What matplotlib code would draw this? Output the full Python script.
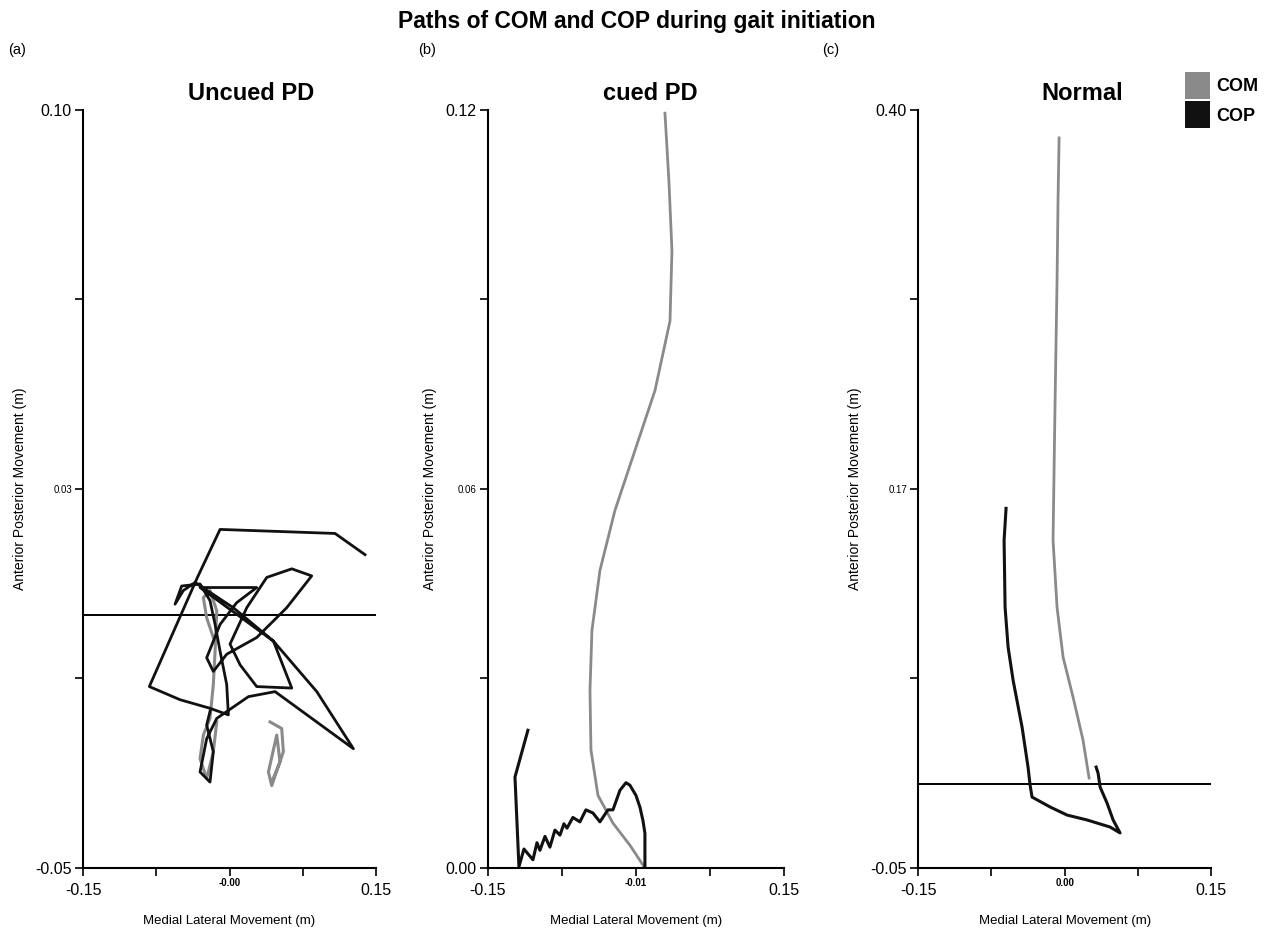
import matplotlib
matplotlib.use("Agg")
import matplotlib.pyplot as plt
from matplotlib.patches import Patch

plt.rcParams['font.family'] = ['Liberation Sans', 'DejaVu Sans']

# ---- data (m) ----
panel_names = ["Uncued PD", "cued PD", "Normal"]
panel_tags = ["(a)", "(b)", "(c)"]

xlim = (-0.15, 0.15)
ylim_a = (-0.05, 0.10)
ylim_b = (0.00, 0.12)
ylim_c = (-0.05, 0.40)

yticklabels_a = ["-0.05", "", "0.03", "", "0.10"]
yticklabels_b = ["0.00", "", "0.06", "", "0.12"]
yticklabels_c = ["-0.05", "", "0.17", "", "0.40"]
xticklabels = ["-0.15", "", "", "", "0.15"]
xmid_labels = ["-0.00", "-0.01", "0.00"]

# (a) uncued PD
cop_a_x = [0.1387, 0.1080, 0.0637, -0.0097, -0.0336, -0.0821, -0.0507, -0.0200,
           -0.0012, -0.0029, -0.0097, -0.0148, -0.0200, -0.0302, -0.0490, -0.0558,
           -0.0473, -0.0353, 0.0039, 0.0449, 0.0637, 0.0278, 0.0108, 0.0005,
           0.0176, 0.0381, 0.0637, 0.0841, 0.0585, 0.0278, -0.0029, -0.0166,
           -0.0234, -0.0097, 0.0073, 0.0278, -0.0302, 0.0449, 0.0893, 0.1268,
           0.0466, 0.0193, -0.0131, -0.0234, -0.0302, -0.0200, -0.0166, -0.0234,
           -0.0200]
cop_a_y = [0.0120, 0.0162, 0.0165, 0.0170, 0.0072, -0.0141, -0.0167, -0.0184,
           -0.0197, -0.0137, -0.0071, -0.0018, 0.0029, 0.0062, 0.0058, 0.0022,
           0.0049, 0.0065, 0.0015, -0.0051, -0.0144, -0.0141, -0.0098, -0.0057,
           0.0015, 0.0075, 0.0092, 0.0078, 0.0015, -0.0044, -0.0077, -0.0111,
           -0.0084, -0.0018, 0.0025, 0.0055, 0.0055, -0.0051, -0.0151, -0.0264,
           -0.0151, -0.0161, -0.0204, -0.0244, -0.0310, -0.0330, -0.0270, -0.0217,
           -0.0190]
com_a_x = [-0.0166, -0.0234, -0.0268, -0.0200, -0.0131, -0.0148, -0.0166, -0.0200,
           -0.0268, -0.0302, -0.0234, -0.0166, -0.0131]
com_a_y = [-0.0044, -0.0005, 0.0035, 0.0049, 0.0009, -0.0071, -0.0137, -0.0204,
           -0.0237, -0.0284, -0.0323, -0.0270, -0.0211]
com_a2_x = [0.0415, 0.0534, 0.0551, 0.0432, 0.0398, 0.0483, 0.0517, 0.0432]
com_a2_y = [-0.0211, -0.0224, -0.0270, -0.0337, -0.0310, -0.0237, -0.0290, -0.0330]

# (b) cued PD
com_b_x = [0.0294, 0.0334, 0.0365, 0.0345, 0.0193, -0.0010, -0.0213, -0.0365,
           -0.0446, -0.0466, -0.0456, -0.0385, -0.0233, -0.0061, 0.0091]
com_b_y = [0.1195, 0.1088, 0.0977, 0.0866, 0.0756, 0.0661, 0.0566, 0.0471,
           0.0376, 0.0281, 0.0187, 0.0115, 0.0071, 0.0036, 0.0000]
cop_b_x = [-0.1095, -0.1226, -0.1186, -0.1135, -0.1044, -0.1003, -0.0973, -0.0922,
           -0.0872, -0.0821, -0.0770, -0.0730, -0.0699, -0.0639, -0.0568, -0.0507,
           -0.0436, -0.0365, -0.0284, -0.0233, -0.0162, -0.0101, -0.0061, 0.0000,
           0.0041, 0.0071, 0.0091, 0.0091]
cop_b_y = [0.0218, 0.0144, 0.0002, 0.0030, 0.0013, 0.0040, 0.0028, 0.0050,
           0.0033, 0.0060, 0.0052, 0.0070, 0.0063, 0.0080, 0.0073, 0.0092,
           0.0087, 0.0073, 0.0092, 0.0092, 0.0123, 0.0135, 0.0131, 0.0115,
           0.0096, 0.0075, 0.0055, 0.0000]

# (c) normal
com_c_x = [-0.0056, -0.0067, -0.0077, -0.0097, -0.0118, -0.0077, -0.0015, 0.0087,
           0.0189, 0.0251]
com_c_y = [0.3834, 0.3461, 0.2987, 0.2275, 0.1445, 0.1048, 0.0751, 0.0514,
           0.0259, 0.0034]
cop_c_x = [-0.0599, -0.0619, -0.0609, -0.0578, -0.0527, -0.0435, -0.0374, -0.0353,
           -0.0333, -0.0148, 0.0026, 0.0230, 0.0466, 0.0568, 0.0497, 0.0435,
           0.0364, 0.0343, 0.0323]
cop_c_y = [0.1635, 0.1445, 0.1048, 0.0811, 0.0615, 0.0336, 0.0099, -0.0008,
           -0.0079, -0.0138, -0.0186, -0.0215, -0.0257, -0.0292, -0.0215, -0.0115,
           -0.0020, 0.0063, 0.0099]

com_color = "#8a8a8a"
cop_color = "#111111"

fig = plt.figure(figsize=(12.77, 9.33), dpi=100)
fig.text(0.499, 0.977, "Paths of COM and COP during gait initiation",
         ha="center", va="center", fontsize=16.5, fontweight="bold")

lefts = [0.065, 0.3821, 0.7189]
widths = [0.2295, 0.2318, 0.2295]
axes = [fig.add_axes([l, 0.0697, w, 0.8124]) for l, w in zip(lefts, widths)]

ylims = [ylim_a, ylim_b, ylim_c]
ylabs = [yticklabels_a, yticklabels_b, yticklabels_c]
title_x = [0.575, 0.55, 0.56]
tag_x = [8 / 1277, 418 / 1277, 822 / 1277]

for i, ax in enumerate(axes):
    ax.set_xlim(xlim)
    ax.set_ylim(ylims[i])
    lo, hi = ylims[i]
    ax.set_yticks([lo + k * (hi - lo) / 4 for k in range(5)])
    ax.set_yticklabels(ylabs[i])
    ax.set_xticks([xlim[0] + k * (xlim[1] - xlim[0]) / 4 for k in range(5)])
    ax.set_xticklabels(xticklabels)
    for side in ["top", "right"]:
        ax.spines[side].set_visible(False)
    for side in ["left", "bottom"]:
        ax.spines[side].set_linewidth(1.5)
    ax.tick_params(direction="out", length=6, width=1.2, labelsize=11.5)
    ax.tick_params(axis="x", pad=5)
    ax.tick_params(axis="y", pad=2)
    for k, lab in enumerate(ax.get_yticklabels()):
        if k == 2:
            lab.set_fontsize(7)
    ax.text(0.0, -0.013, xmid_labels[i], transform=ax.get_xaxis_transform(),
            ha="center", va="top", fontsize=7, fontweight="bold")
    ax.set_xlabel("Medial Lateral Movement (m)", fontsize=9.5, labelpad=12)
    ax.set_ylabel("Anterior Posterior Movement (m)", fontsize=10, labelpad=6)
    ax.text(title_x[i], 1.022, panel_names[i], transform=ax.transAxes,
            ha="center", va="center", fontsize=17, fontweight="bold")
    fig.text(tag_x[i], 1 - 50 / 933, panel_tags[i], ha="left", va="center",
             fontsize=10.5)

ax_a, ax_b, ax_c = axes
ax_a.axhline(0, color="black", lw=1.4)
ax_a.plot(com_a_x, com_a_y, color=com_color, lw=2.2)
ax_a.plot(com_a2_x, com_a2_y, color=com_color, lw=2.2)
ax_a.plot(cop_a_x, cop_a_y, color=cop_color, lw=2.0)

ax_b.plot(com_b_x, com_b_y, color=com_color, lw=2.0)
ax_b.plot(cop_b_x, cop_b_y, color=cop_color, lw=2.2)

ax_c.axhline(0, color="black", lw=1.4)
ax_c.plot(com_c_x, com_c_y, color=com_color, lw=2.0)
ax_c.plot(cop_c_x, cop_c_y, color=cop_color, lw=2.2)

handles = [Patch(facecolor=com_color, edgecolor="none", label="COM"),
           Patch(facecolor=cop_color, edgecolor="none", label="COP")]
fig.legend(handles=handles, loc="upper left",
           bbox_to_anchor=(1185 / 1277, 1 - 72 / 933),
           frameon=False, handlelength=1.4, handleheight=1.9,
           handletextpad=0.35, labelspacing=0.15, borderpad=0, borderaxespad=0,
           prop={"weight": "bold", "size": 13})

fig.savefig("out.png", dpi=100)
